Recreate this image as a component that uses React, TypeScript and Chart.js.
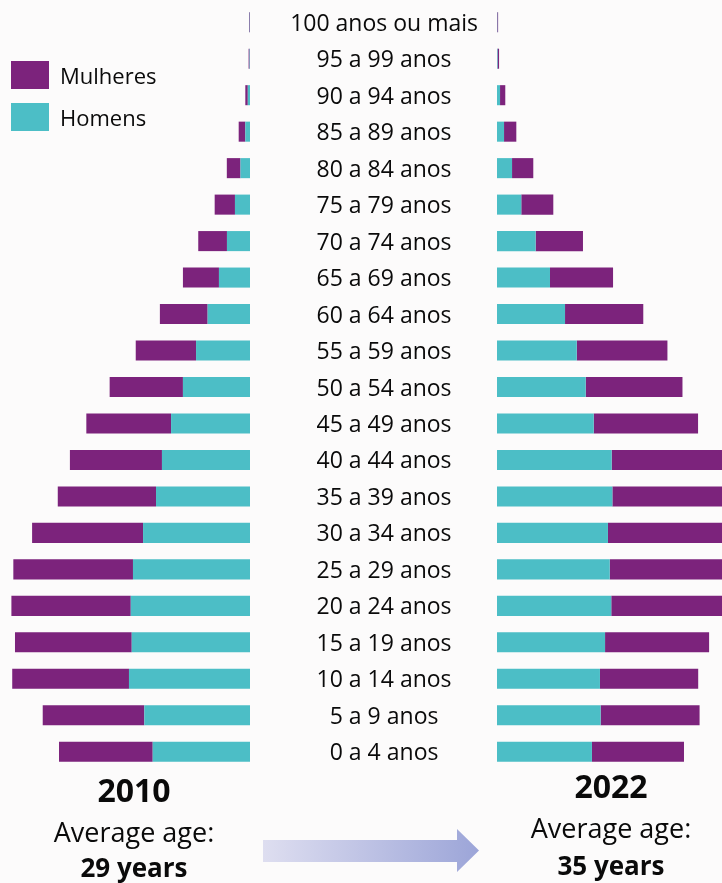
import React, { useEffect, useRef } from "react";
import { Chart, registerables } from "chart.js";

Chart.register(...registerables);

// ---- Data (millions of people) ----
const AGE_GROUPS = [
  "100 anos ou mais",
  "95 a 99 anos",
  "90 a 94 anos",
  "85 a 89 anos",
  "80 a 84 anos",
  "75 a 79 anos",
  "70 a 74 anos",
  "65 a 69 anos",
  "60 a 64 anos",
  "55 a 59 anos",
  "50 a 54 anos",
  "45 a 49 anos",
  "40 a 44 anos",
  "35 a 39 anos",
  "30 a 34 anos",
  "25 a 29 anos",
  "20 a 24 anos",
  "15 a 19 anos",
  "10 a 14 anos",
  "5 a 9 anos",
  "0 a 4 anos",
];

const MEN_2010 = [0.02, 0.03, 0.16, 0.34, 0.69, 1.09, 1.67, 2.25, 3.07, 3.91, 4.86, 5.72, 6.38, 6.81, 7.75, 8.48, 8.64, 8.57, 8.77, 7.66, 7.05];
const WOMEN_2010 = [0.05, 0.07, 0.18, 0.48, 0.99, 1.47, 2.08, 2.61, 3.46, 4.37, 5.31, 6.14, 6.67, 7.12, 8.04, 8.67, 8.65, 8.46, 8.46, 7.36, 6.79];

const MEN_2022 = [0.02, 0.04, 0.22, 0.51, 1.09, 1.76, 2.8, 3.84, 4.93, 5.78, 6.43, 7.01, 8.31, 8.36, 8.04, 8.17, 8.28, 7.83, 7.46, 7.51, 6.88];
const WOMEN_2022 = [0.06, 0.11, 0.38, 0.89, 1.54, 2.32, 3.43, 4.57, 5.67, 6.57, 7.01, 7.56, 8.77, 8.84, 8.48, 8.33, 8.19, 7.54, 7.12, 7.17, 6.67];

const SERIES_NAMES = ["Homens", "Mulheres"];
const LEGEND_ORDER = ["Mulheres", "Homens"];
const YEARS = ["2010", "2022"];
const AVG_LABEL = "Average age:";
const AVG_AGES = ["29 years", "35 years"];

// ---- Styles ----
const PURPLE = "#7C237C";
const TEAL = "#4CBEC6";
const TEXT = "#0a0a0a";
const FONT = "'Open Sans', 'Liberation Sans', sans-serif";
const PX_PER_UNIT = 13.8;
const CHART_TOP = 4;
const CHART_H = 766;
const LEFT_W = 250;
const RIGHT_LEFT = 273;
const RIGHT_W = 449;
const AXIS_W = 224;

function colorFor(name: string) {
  return name === "Mulheres" ? PURPLE : TEAL;
}

function baseOptions() {
  return {
    indexAxis: "y" as const,
    responsive: false,
    maintainAspectRatio: false,
    animation: false as const,
    layout: { padding: 0 },
    plugins: { legend: { display: false }, tooltip: { enabled: false } },
    datasets: { bar: { categoryPercentage: 1, barPercentage: 0.55, borderWidth: 0 } },
  };
}

function PyramidLeft() {
  const ref = useRef<HTMLCanvasElement | null>(null);
  useEffect(() => {
    if (!ref.current) return;
    const chart = new Chart(ref.current, {
      type: "bar",
      data: {
        labels: AGE_GROUPS,
        datasets: [
          { label: SERIES_NAMES[0], data: MEN_2010, backgroundColor: colorFor(SERIES_NAMES[0]) },
          { label: SERIES_NAMES[1], data: WOMEN_2010, backgroundColor: colorFor(SERIES_NAMES[1]) },
        ],
      },
      options: {
        ...baseOptions(),
        scales: {
          x: { stacked: true, reverse: true, min: 0, max: LEFT_W / PX_PER_UNIT, display: false },
          y: { stacked: true, display: false },
        },
      } as any,
    });
    return () => chart.destroy();
  }, []);
  return (
    <canvas
      ref={ref}
      width={LEFT_W}
      height={CHART_H}
      style={{ position: "absolute", left: 0, top: CHART_TOP, width: LEFT_W, height: CHART_H }}
    />
  );
}

function PyramidRight() {
  const ref = useRef<HTMLCanvasElement | null>(null);
  useEffect(() => {
    if (!ref.current) return;
    const chart = new Chart(ref.current, {
      type: "bar",
      data: {
        labels: AGE_GROUPS,
        datasets: [
          { label: SERIES_NAMES[0], data: MEN_2022, backgroundColor: colorFor(SERIES_NAMES[0]) },
          { label: SERIES_NAMES[1], data: WOMEN_2022, backgroundColor: colorFor(SERIES_NAMES[1]) },
        ],
      },
      options: {
        ...baseOptions(),
        scales: {
          x: { stacked: true, min: 0, max: (RIGHT_W - AXIS_W) / PX_PER_UNIT, display: false },
          y: {
            stacked: true,
            position: "left",
            grid: { display: false, drawTicks: false, tickLength: 0 },
            border: { display: false },
            ticks: {
              autoSkip: false,
              crossAlign: "center",
              padding: 19,
              labelOffset: 2,
              color: TEXT,
              font: { family: FONT, size: 23 },
            },
            afterFit: (s: any) => {
              s.width = AXIS_W;
              s.paddingTop = 0;
              s.paddingBottom = 0;
            },
          },
        },
      } as any,
    });
    return () => chart.destroy();
  }, []);
  return (
    <canvas
      ref={ref}
      width={RIGHT_W}
      height={CHART_H}
      style={{ position: "absolute", left: RIGHT_LEFT, top: CHART_TOP, width: RIGHT_W, height: CHART_H }}
    />
  );
}

// place text by baseline (Open Sans: baseline ≈ top + 0.888 * size with line-height 1)
function Txt(props: { text: string; cx: number; baseline: number; size: number; bold?: boolean }) {
  const { text, cx, baseline, size, bold } = props;
  return (
    <div
      style={{
        position: "absolute",
        left: cx - 150,
        width: 300,
        top: baseline - 0.888 * size,
        textAlign: "center",
        fontFamily: FONT,
        fontSize: size,
        lineHeight: `${size}px`,
        fontWeight: bold ? 700 : 400,
        color: TEXT,
        whiteSpace: "nowrap",
      }}
    >
      {text}
    </div>
  );
}

function Legend() {
  return (
    <>
      {LEGEND_ORDER.map((name, i) => (
        <React.Fragment key={name}>
          <div
            style={{
              position: "absolute",
              left: 11,
              top: 61 + i * 42,
              width: 38,
              height: 28,
              background: colorFor(name),
            }}
          />
          <div
            style={{
              position: "absolute",
              left: 60,
              top: 61 + i * 42 + 14 - 0.888 * 22 + 9,
              fontFamily: FONT,
              fontSize: 22,
              lineHeight: "22px",
              color: TEXT,
              whiteSpace: "nowrap",
            }}
          >
            {name}
          </div>
        </React.Fragment>
      ))}
    </>
  );
}

function Arrow() {
  return (
    <svg
      width={722}
      height={883}
      style={{ position: "absolute", left: 0, top: 0, pointerEvents: "none" }}
    >
      <defs>
        <linearGradient id="arrowGrad" x1="263" y1="0" x2="479" y2="0" gradientUnits="userSpaceOnUse">
          <stop offset="0" stopColor="#dedef0" />
          <stop offset="1" stopColor="#9ca5d8" />
        </linearGradient>
      </defs>
      <polygon
        points="263,840 457,840 457,829 479,850.5 457,872 457,862 263,862"
        fill="url(#arrowGrad)"
      />
    </svg>
  );
}

export default function App() {
  return (
    <div
      style={{
        position: "absolute",
        left: 0,
        top: 0,
        width: 722,
        height: 883,
        overflow: "hidden",
        background: "#fcfbfb",
      }}
    >
      <PyramidLeft />
      <PyramidRight />
      <Legend />
      <Arrow />
      <Txt text={YEARS[0]} cx={134} baseline={802} size={32} bold />
      <Txt text={AVG_LABEL} cx={134} baseline={842} size={27} />
      <Txt text={AVG_AGES[0]} cx={134} baseline={877} size={26} bold />
      <Txt text={YEARS[1]} cx={611} baseline={798} size={32} bold />
      <Txt text={AVG_LABEL} cx={611} baseline={838} size={27} />
      <Txt text={AVG_AGES[1]} cx={611} baseline={875} size={26} bold />
    </div>
  );
}
